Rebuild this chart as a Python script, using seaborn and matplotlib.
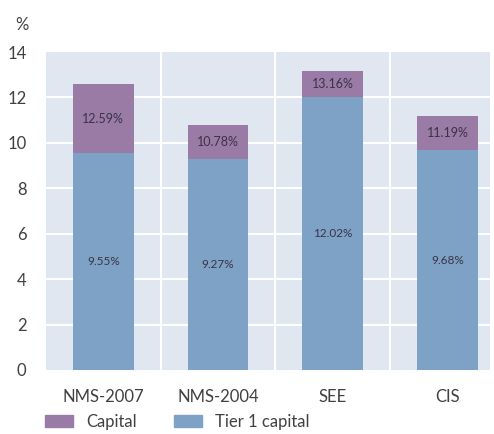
import pandas as pd
import numpy as np
import matplotlib.pyplot as plt
import seaborn as sns
from matplotlib.patches import Patch

# -- Data --
regions = ['NMS-2007', 'NMS-2004', 'SEE', 'CIS']
capital = [12.59, 10.78, 13.16, 11.19]
tier1 = [9.55, 9.27, 12.02, 9.68]

df = pd.DataFrame({'Region': regions, 'Capital': capital, 'Tier1': tier1})

purple = '#9a7ba6'
blue = '#7ea2c6'
bg = '#e1e7f1'

sns.set_style('white')
plt.rcParams['font.family'] = ['Lato', 'DejaVu Sans']

fig = plt.figure(figsize=(4.94, 4.34), dpi=100)
ax = fig.add_axes([0.093, 0.1475, 0.899, 0.7325])
ax.set_facecolor(bg)

# total capital behind, tier 1 in front
sns.barplot(data=df, x='Region', y='Capital', color=purple, width=0.53,
            saturation=1, linewidth=0, ax=ax, zorder=3)
sns.barplot(data=df, x='Region', y='Tier1', color=blue, width=0.53,
            saturation=1, linewidth=0, ax=ax, zorder=3)

for i in range(len(regions)):
    ax.text(i, (capital[i] + tier1[i]) / 2, f'{capital[i]:.2f}%', ha='center',
            va='center', fontsize=9, color='#3a3346', zorder=4)
    ax.text(i, tier1[i] / 2, f'{tier1[i]:.2f}%', ha='center', va='center',
            fontsize=8.5, color='#3a3346', zorder=4)

ax.set_ylim(0, 14)
ax.set_yticks(range(0, 15, 2))
ax.set_xlim(-0.5, 3.37)
ax.set_xlabel('')
ax.set_ylabel('')

# grid: horizontal at ticks, vertical between categories
for y in range(2, 14, 2):
    ax.axhline(y, color='white', lw=1.5, zorder=1)
for x in [0.5, 1.5, 2.5]:
    ax.axvline(x, color='white', lw=1.5, zorder=1)

for s in ax.spines.values():
    s.set_visible(False)
ax.tick_params(axis='both', length=0, labelsize=12, colors='#404040')
ax.tick_params(axis='x', pad=14)
ax.tick_params(axis='y', pad=14)

fig.text(0.03, 0.93, '%', fontsize=12, color='#404040')

handles = [Patch(color=purple, label='Capital'), Patch(color=blue, label='Tier 1 capital')]
fig.legend(handles=handles, loc='lower left', bbox_to_anchor=(0.06, -0.025), ncol=2,
           frameon=False, fontsize=12, handlelength=1.7, handleheight=0.7,
           handletextpad=0.8, columnspacing=2.2, labelcolor='#404040')

plt.savefig('out.png', dpi=100)
